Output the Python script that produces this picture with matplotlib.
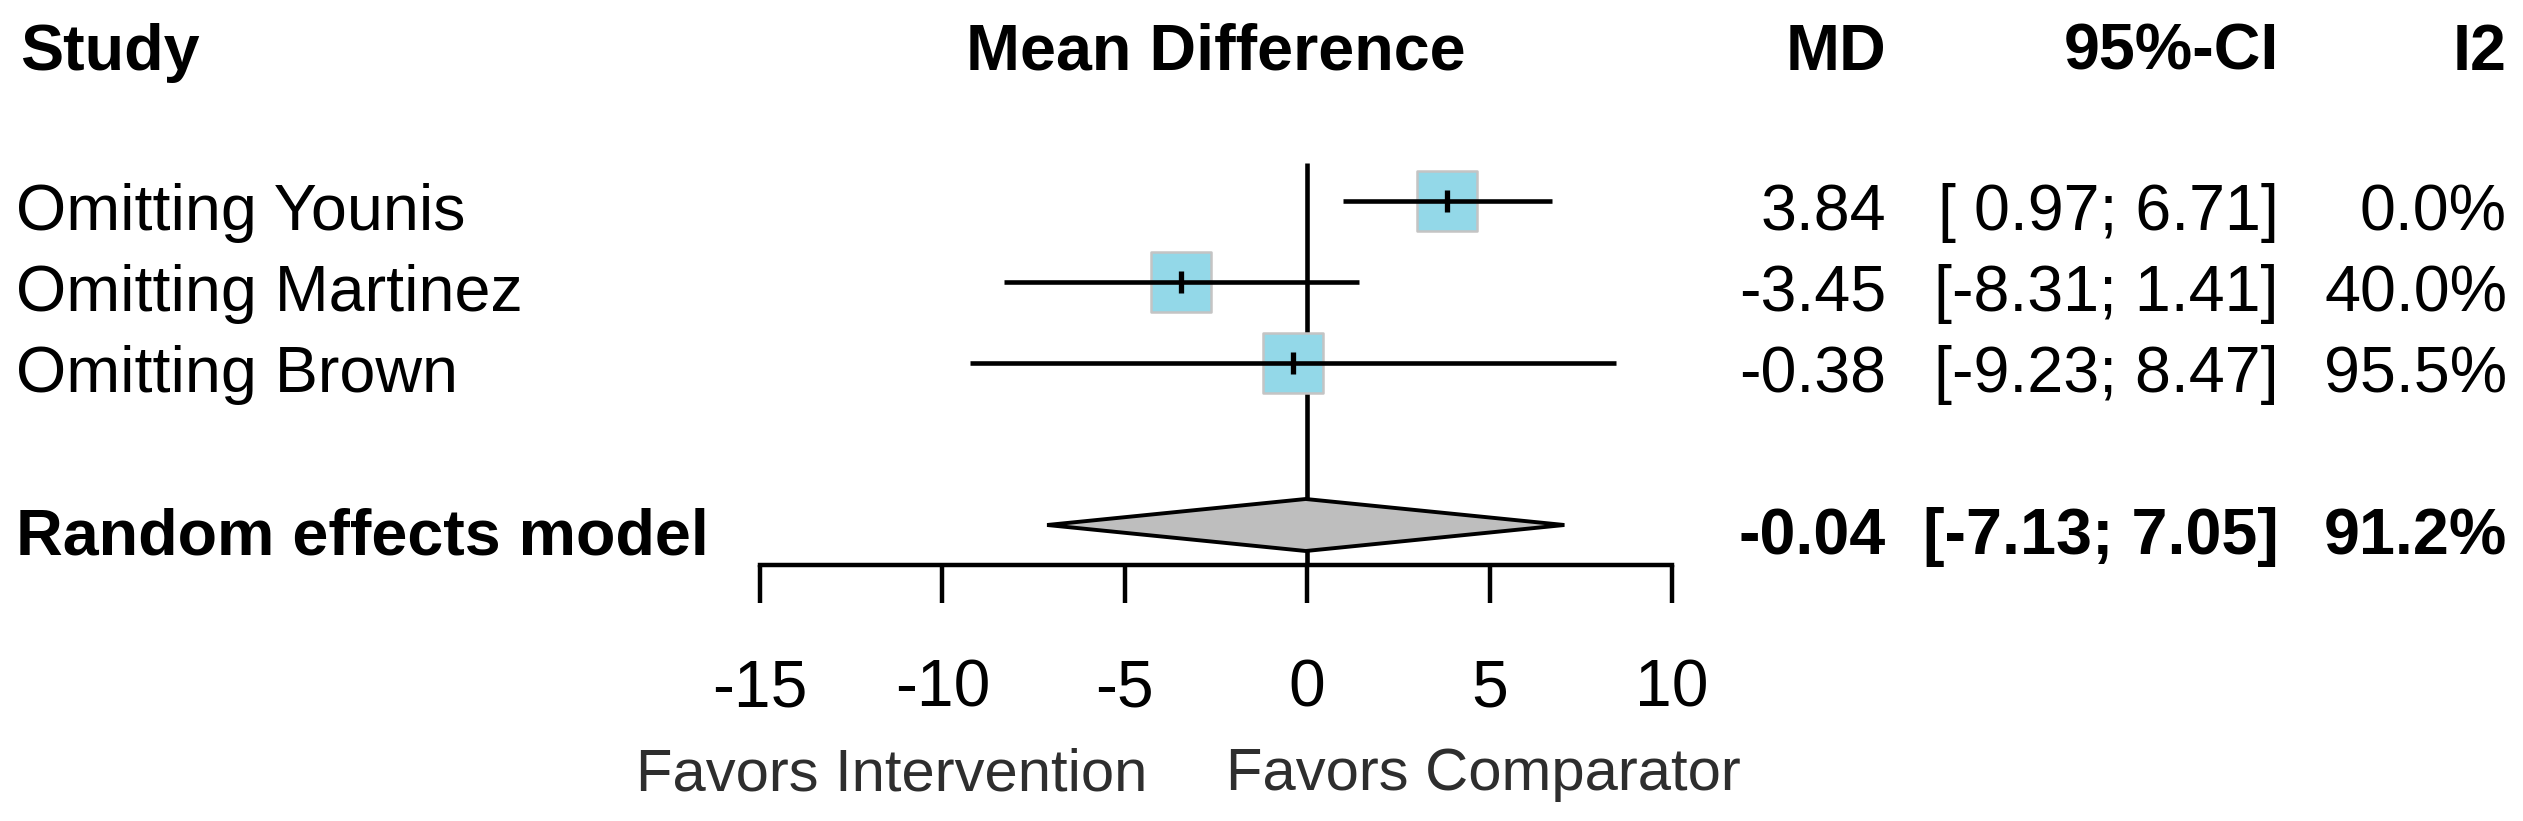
import numpy as np
import matplotlib.pyplot as plt
from matplotlib.patches import Polygon
from matplotlib import transforms

plt.rcParams['font.family'] = ['Liberation Sans', 'DejaVu Sans']

studies = ['Omitting Younis', 'Omitting Martinez', 'Omitting Brown']
md = np.array([3.84, -3.45, -0.38])
ci_lo = np.array([0.97, -8.31, -9.23])
ci_hi = np.array([6.71, 1.41, 8.47])
i2 = np.array([0.0, 40.0, 95.5])
rows = np.array([1, 2, 3])

re_label = 'Random effects model'
re_md, re_lo, re_hi, re_i2 = -0.04, -7.13, 7.05, 91.2
re_row = 5

xticks = [-15, -10, -5, 0, 5, 10]
left_label = 'Favors Intervention'
right_label = 'Favors Comparator'

W, H = 2523, 821
fig = plt.figure(figsize=(W / 100, H / 100), dpi=100)

def px(x):
    return x / W

# axes: x from -15..10 at pixels 760..1672, y rows mapped so row 1 sits at pixel 201
def row_at(p):
    return 1 + (p - 201) / 81.0

ax = fig.add_axes([px(760), 1 - 565 / H, px(1672) - px(760), 565 / H])
ax.set_xlim(-15, 10)
ax.set_ylim(row_at(565), row_at(0))
for s in ['top', 'left', 'right']:
    ax.spines[s].set_visible(False)
ax.spines['bottom'].set_linewidth(3.2)
ax.set_yticks([])
ax.set_xticks(xticks)
ax.set_xticklabels([str(t) for t in xticks])
ax.tick_params(axis='x', direction='out', length=27, width=3.2, labelsize=47.5, pad=40)
ax.patch.set_visible(False)

lw = 3.3
# line of no effect
ax.vlines(0, row_at(163), row_at(565), color='black', lw=lw, zorder=1)

# study estimates
ax.scatter(md, rows, marker='s', s=1850, color='#93d8e8', edgecolor='#c4c4c4',
           linewidth=1.8, zorder=2)
ax.hlines(rows, ci_lo, ci_hi, color='black', lw=lw, zorder=3)
ax.scatter(md, rows, marker='|', s=260, color='black', linewidth=3.8, zorder=4)

# pooled diamond
h = 26 / 81.0
diamond = Polygon([(re_lo, re_row), (re_md, re_row - h), (re_hi, re_row), (re_md, re_row + h)],
                  closed=True, facecolor='#bebebe', edgecolor='black', lw=2.8, zorder=3)
ax.add_patch(diamond)

# text columns
tr = transforms.blended_transform_factory(fig.transFigure, ax.transData)
fs = 46.5
off = 0.36
hdr = row_at(70)

ax.text(px(20), hdr, 'Study', transform=tr, fontsize=fs, fontweight='bold', va='baseline', ha='left')
ax.text(px(1216), hdr, 'Mean Difference', transform=tr, fontsize=fs, fontweight='bold',
        va='baseline', ha='center')
ax.text(px(1886), hdr, 'MD', transform=tr, fontsize=fs, fontweight='bold', va='baseline', ha='right')
ax.text(px(2279), hdr, '95%-CI', transform=tr, fontsize=fs, fontweight='bold', va='baseline', ha='right')
ax.text(px(2507), hdr, 'I2', transform=tr, fontsize=fs, fontweight='bold', va='baseline', ha='right')

for name, m, lo, hi, q, r in zip(studies, md, ci_lo, ci_hi, i2, rows):
    ax.text(px(16), r + off, name, transform=tr, fontsize=fs, va='baseline', ha='left')
    ax.text(px(1886), r + off, f'{m:.2f}', transform=tr, fontsize=fs, va='baseline', ha='right')
    ax.text(px(2279), r + off, f'[{lo:5.2f};{hi:5.2f}]', transform=tr, fontsize=fs,
            va='baseline', ha='right')
    ax.text(px(2507), r + off, f'{q:.1f}%', transform=tr, fontsize=fs, va='baseline', ha='right')

ax.text(px(16), re_row + off, re_label, transform=tr, fontsize=fs, fontweight='bold',
        va='baseline', ha='left')
ax.text(px(1886), re_row + off, f'{re_md:.2f}', transform=tr, fontsize=fs, fontweight='bold',
        va='baseline', ha='right')
ax.text(px(2279), re_row + off, f'[{re_lo:5.2f};{re_hi:5.2f}]', transform=tr, fontsize=fs,
        fontweight='bold', va='baseline', ha='right')
ax.text(px(2507), re_row + off, f'{re_i2:.1f}%', transform=tr, fontsize=fs, fontweight='bold',
        va='baseline', ha='right')

# direction labels
fav_y = 1 - 790 / H
fig.text(px(1147), fav_y, left_label, fontsize=43, color='#2e2e2e', ha='right', va='baseline')
fig.text(px(1226), fav_y, right_label, fontsize=43, color='#2e2e2e', ha='left', va='baseline')

fig.savefig('out.png', dpi=100, facecolor='white')
